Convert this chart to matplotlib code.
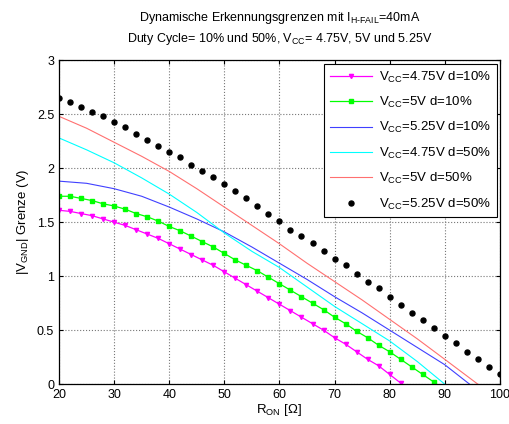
import numpy as np
import matplotlib.pyplot as plt

plt.rcParams['font.family'] = ['Liberation Sans', 'DejaVu Sans']
plt.rcParams['mathtext.fontset'] = 'custom'
plt.rcParams['mathtext.rm'] = 'Liberation Sans'

# Werte
r_mag = [20, 22, 24, 26, 28, 30, 32, 34, 36, 38, 40, 42, 44, 46, 48, 50,
         52, 54, 56, 58, 60, 62, 64, 66, 68, 70, 72, 74, 76, 78, 80, 82]
v_mag = [1.61, 1.60, 1.58, 1.56, 1.53, 1.50, 1.47, 1.43, 1.39, 1.35, 1.30,
         1.25, 1.20, 1.15, 1.10, 1.04, 0.98, 0.92, 0.86, 0.80, 0.74, 0.68,
         0.62, 0.56, 0.50, 0.43, 0.37, 0.30, 0.23, 0.17, 0.09, 0.01]

r_grn = [20, 22, 24, 26, 28, 30, 32, 34, 36, 38, 40, 42, 44, 46, 48, 50, 52, 54,
         56, 58, 60, 62, 64, 66, 68, 70, 72, 74, 76, 78, 80, 82, 84, 86, 88]
v_grn = [1.74, 1.74, 1.72, 1.70, 1.67, 1.65, 1.62, 1.58, 1.55, 1.51, 1.46,
         1.42, 1.37, 1.32, 1.27, 1.21, 1.15, 1.10, 1.05, 0.99, 0.93, 0.87,
         0.81, 0.75, 0.69, 0.62, 0.56, 0.49, 0.43, 0.36, 0.30, 0.23, 0.16,
         0.09, 0.02]

r_blu = [20, 25, 30, 35, 40, 45, 50, 55, 60, 65, 70, 75, 80, 85, 90, 94.5]
v_blu = [1.88, 1.86, 1.81, 1.74, 1.64, 1.53, 1.41, 1.27, 1.12, 0.97, 0.81,
         0.66, 0.50, 0.34, 0.18, 0.0]

r_cya = [20, 25, 30, 35, 40, 45, 50, 55, 60, 65, 70, 75, 80, 85, 90]
v_cya = [2.28, 2.17, 2.05, 1.91, 1.76, 1.59, 1.40, 1.23, 1.08, 0.90, 0.72,
         0.56, 0.40, 0.21, 0.0]

r_red = [20, 25, 30, 35, 40, 45, 50, 55, 60, 65, 70, 75, 80, 85, 90, 96]
v_red = [2.48, 2.37, 2.24, 2.11, 1.97, 1.81, 1.64, 1.47, 1.30, 1.12, 0.95,
         0.78, 0.60, 0.42, 0.23, 0.0]

r_blk = list(range(20, 101, 2))
v_blk = [2.65, 2.61, 2.57, 2.52, 2.48, 2.43, 2.38, 2.32, 2.26, 2.21, 2.15,
         2.10, 2.03, 1.97, 1.92, 1.85, 1.79, 1.72, 1.65, 1.58, 1.51, 1.43,
         1.37, 1.31, 1.23, 1.16, 1.10, 1.02, 0.95, 0.89, 0.81, 0.73, 0.66,
         0.59, 0.52, 0.45, 0.38, 0.30, 0.23, 0.16, 0.09]

labels = [r'V$_{\mathrm{CC}}$=4.75V d=10%', r'V$_{\mathrm{CC}}$=5V d=10%',
          r'V$_{\mathrm{CC}}$=5.25V d=10%', r'V$_{\mathrm{CC}}$=4.75V d=50%',
          r'V$_{\mathrm{CC}}$=5V d=50%', r'V$_{\mathrm{CC}}$=5.25V d=50%']

fig = plt.figure(figsize=(5.09, 4.24), dpi=100)
ax = fig.add_axes([0.116, 0.094, 0.866, 0.764])

ax.plot(r_mag, v_mag, color='#ff00ff', lw=0.9, marker='v', ms=3, label=labels[0])
ax.plot(r_grn, v_grn, color='#00ff00', lw=0.9, marker='s', ms=3.2, label=labels[1])
ax.plot(r_blu, v_blu, color='#4040ff', lw=0.8, label=labels[2])
ax.plot(r_cya, v_cya, color='#00ffff', lw=0.8, label=labels[3])
ax.plot(r_red, v_red, color='#ff7070', lw=0.8, label=labels[4])
ax.plot(r_blk, v_blk, 'ko', ms=3.6, ls='none', label=labels[5])

ax.set_xlim(20, 100)
ax.set_ylim(0, 3)
ax.set_xticks(range(20, 101, 10))
ax.set_yticks([0, 0.5, 1, 1.5, 2, 2.5, 3])
ax.set_yticklabels(['0', '0.5', '1', '1.5', '2', '2.5', '3'])
ax.tick_params(direction='in', top=True, right=True, labelsize=9, length=3)
ax.grid(True, color='#777777', linestyle=':', linewidth=0.8)
for s in ax.spines.values():
    s.set_linewidth(0.9)

ax.set_xlabel(r'R$_{\mathrm{ON}}$ [$\Omega$]', fontsize=9.5, labelpad=1)
ax.set_ylabel(r'|V$_{\mathrm{GND}}$| Grenze (V)', fontsize=9.5, labelpad=4)
ax.set_title('Dynamische Erkennungsgrenzen mit I$_{\\mathrm{H\u2010FAIL}}$=40mA\n'
             'Duty Cycle= 10% und 50%, V$_{\\mathrm{CC}}$= 4.75V, 5V und 5.25V',
             fontsize=9, pad=13, linespacing=1.5)

leg = ax.legend(loc='upper right', fontsize=9.5, fancybox=False, framealpha=1,
                edgecolor='black', borderaxespad=0.25, handlelength=3.2,
                labelspacing=0.78, handletextpad=0.5, borderpad=0.45)
leg.get_frame().set_linewidth(0.8)

fig.savefig('out.png', dpi=100)
